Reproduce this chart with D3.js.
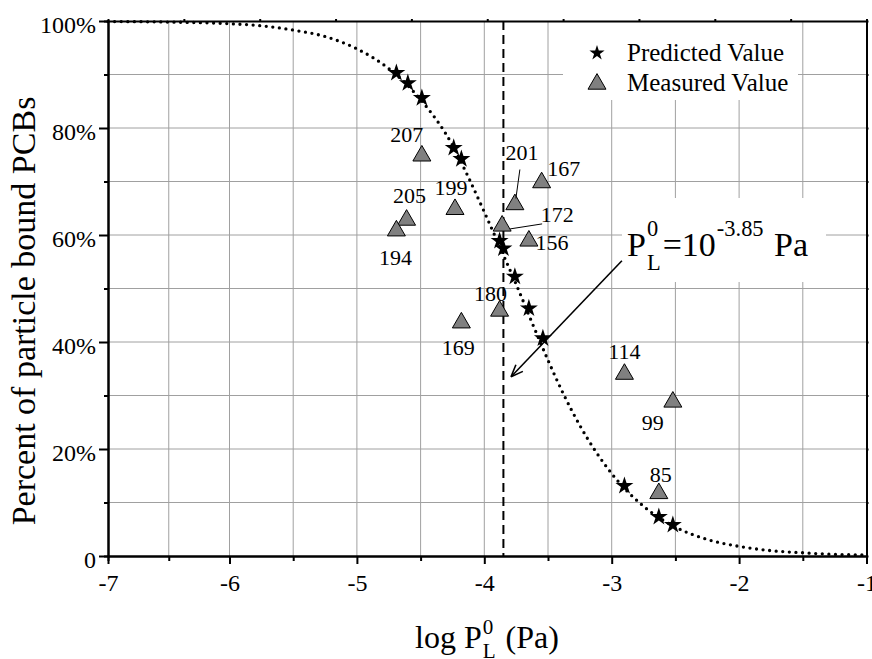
<!DOCTYPE html>
<html lang="en">
<head>
<meta charset="UTF-8">
<title>Particle bound PCBs</title>
<script src="https://cdn.jsdelivr.net/npm/d3@7"></script>
<style>
  body { margin: 0; background: #fff; }
  svg { display: block; }
  svg text { font-family: "Liberation Serif", "Times New Roman", serif; fill: #000; }
  .grid line { stroke: #a0a0a0; stroke-width: 1; }
  .axis path, .axis line { stroke: #000; stroke-width: 2; }
  .axis text { font-size: 24px; }
  .lbl { font-size: 22px; }
</style>
</head>
<body>
<svg id="chart" width="872" height="659"></svg>
<script>
// model curve
const curveLogP = [-7, -6.5, -6, -5.75, -5.5, -5.25, -5, -4.75, -4.5, -4.25, -4.125, -4, -3.875, -3.75, -3.625, -3.5, -3.375, -3.25, -3, -2.75, -2.5, -2.25, -2, -1.75, -1.5, -1.25, -1];
const curvePct  = [99.9, 99.8, 99.5, 99.1, 98.3, 97.1, 94.8, 91.1, 85.3, 76.8, 70.8, 64.3, 57.6, 50.8, 43.6, 36.6, 30.1, 24.4, 15.4, 9.3, 5.4, 3.1, 1.8, 1.0, 0.6, 0.3, 0.2];

// predicted values (stars)
const predLogP = [-4.69, -4.60, -4.49, -4.24, -4.18, -3.88, -3.85, -3.76, -3.65, -3.54, -2.90, -2.63, -2.52];
const predPct  = [90.3, 88.4, 85.6, 76.3, 74.2, 58.9, 57.5, 52.2, 46.3, 40.7, 13.1, 7.3, 5.8];

// measured values (triangles) and congener numbers
const measLabel = ["207", "199", "205", "194", "201", "167", "172", "156", "180", "169", "114", "99", "85"];
const measLogP  = [-4.49, -4.23, -4.61, -4.69, -3.76, -3.55, -3.86, -3.65, -3.88, -4.18, -2.90, -2.52, -2.63];
const measPct   = [74.8, 64.8, 62.8, 60.8, 65.7, 69.8, 61.7, 58.9, 45.8, 43.6, 34.0, 28.8, 11.7];

const xTicks = [-7, -6, -5, -4, -3, -2, -1];
const yTicks = [0, 20, 40, 60, 80, 100];
const logPL = -3.85;

// label placement (pixels from marker), leader lines for crowded ones
const labelOffset = [[-15, -14], [-4, -14], [3, -17], [-1, 34], [7, -45], [22, -7], [55, -4], [23, 9], [-9, -10], [-3, 32], [0, -15], [-20, 28], [2, -11]];
const leaders = { "201": [[5, -35], [1, -6]], "172": [[40, -2], [8, 3]] };

const svg = d3.select("#chart");
const L = 108, R = 866.5, T = 21, B = 556;

// the printed axis squeezes the first decade slightly
const x = d3.scaleLinear().domain([-7, -6, -1]).range([L, 229.5, R]);
const y = d3.scaleLinear().domain([0, 100]).range([B, T]);

// grid
const grid = svg.append("g").attr("class", "grid");
grid.selectAll(".gx").data(d3.range(-6.5, -1.4, 0.5)).join("line")
  .attr("x1", d => x(d)).attr("x2", d => x(d)).attr("y1", T).attr("y2", B);
grid.selectAll(".gy").data(d3.range(10, 91, 10)).join("line")
  .attr("x1", L).attr("x2", R).attr("y1", d => y(d)).attr("y2", d => y(d));

// legend box and annotation box hide the grid
svg.append("rect").attr("x", 563).attr("y", T + 1).attr("width", 235).attr("height", 78).attr("fill", "#fff");
svg.append("rect").attr("x", 622).attr("y", 198).attr("width", 204).attr("height", 84).attr("fill", "#fff");

// axes
const serif = '"Liberation Serif", serif';
svg.append("g").attr("class", "axis")
  .attr("transform", `translate(${L},0)`)
  .call(d3.axisLeft(y).tickValues(d3.range(10, 100, 20)).tickSize(4).tickFormat(""));
const yAx = svg.append("g").attr("class", "axis")
  .attr("transform", `translate(${L},0)`)
  .call(d3.axisLeft(y).tickValues(yTicks).tickSize(9).tickSizeOuter(0).tickPadding(3)
    .tickFormat(d => d === 0 ? "0" : d + "%"))
  .attr("font-family", serif).attr("font-size", 24);
yAx.selectAll("text").attr("dy", "0.47em");

svg.append("g").attr("class", "axis")
  .attr("transform", `translate(0,${B})`)
  .call(d3.axisBottom(x).tickValues(d3.range(-6.5, -1, 1)).tickSize(5).tickFormat(""));
svg.append("g").attr("class", "axis")
  .attr("transform", `translate(0,${B})`)
  .call(d3.axisBottom(x).tickValues(xTicks).tickSize(8).tickSizeOuter(0).tickPadding(10)
    .tickFormat(d => String(d)))
  .attr("font-family", serif).attr("font-size", 24);

// top and right frame
const topScale = d3.scaleLinear().domain([0, 10]).range([L, R]);
svg.append("g").attr("class", "axis")
  .attr("transform", `translate(0,${T})`)
  .call(d3.axisTop(topScale).ticks(10).tickSize(2).tickSizeOuter(0).tickFormat(""));
svg.append("g").attr("class", "axis")
  .attr("transform", `translate(${R},0)`)
  .call(d3.axisRight(y).tickValues(d3.range(0, 101, 10)).tickSize(2).tickSizeOuter(0).tickFormat(""));

// dashed line at log PL = -3.85
svg.append("line")
  .attr("x1", x(logPL)).attr("x2", x(logPL)).attr("y1", T).attr("y2", B)
  .attr("stroke", "#000").attr("stroke-width", 2).attr("stroke-dasharray", "9,5");

// dotted model curve
const curvePts = curveLogP.map((d, i) => [d, curvePct[i]]);
svg.append("path")
  .datum(curvePts)
  .attr("d", d3.line().x(d => x(d[0])).y(d => y(d[1])).curve(d3.curveMonotoneX))
  .attr("fill", "none").attr("stroke", "#000").attr("stroke-width", 3.3)
  .attr("stroke-linecap", "round").attr("stroke-dasharray", "0,6.6");

// measured triangles
const tri = d3.symbol(d3.symbolTriangle, 140);
measLogP.forEach((d, i) => {
  const px = x(d), py = y(measPct[i]);
  svg.append("path").attr("d", tri())
    .attr("transform", `translate(${px},${py})`)
    .attr("fill", "#808080").attr("stroke", "#000").attr("stroke-width", 1);
  const off = labelOffset[i];
  svg.append("text").attr("class", "lbl")
    .attr("x", px + off[0]).attr("y", py + off[1])
    .attr("text-anchor", "middle").text(measLabel[i]);
  const ld = leaders[measLabel[i]];
  if (ld) {
    svg.append("line")
      .attr("x1", px + ld[0][0]).attr("y1", py + ld[0][1])
      .attr("x2", px + ld[1][0]).attr("y2", py + ld[1][1])
      .attr("stroke", "#000").attr("stroke-width", 1);
  }
});

// predicted stars
const star = d3.symbol(d3.symbolStar, 100);
svg.selectAll(".star").data(predLogP).join("path")
  .attr("d", star())
  .attr("transform", (d, i) => `translate(${x(d)},${y(predPct[i])})`)
  .attr("fill", "#000");

// legend
svg.append("path").attr("d", d3.symbol(d3.symbolStar, 72)())
  .attr("transform", "translate(597,53)").attr("fill", "#000");
svg.append("text").attr("x", 627).attr("y", 61).attr("font-size", 25).text("Predicted Value");
svg.append("path").attr("d", tri())
  .attr("transform", "translate(597,84)")
  .attr("fill", "#808080").attr("stroke", "#000").attr("stroke-width", 1);
svg.append("text").attr("x", 627).attr("y", 91).attr("font-size", 25).text("Measured Value");

// text with stacked super/subscripts
function rich(x0, y0, size, parts, supUp, subDown) {
  let cx = x0;
  parts.forEach(p => {
    if (typeof p === "string") {
      const t = svg.append("text").attr("x", cx).attr("y", y0).attr("font-size", size)
        .attr("xml:space", "preserve").text(p);
      cx += t.node().getComputedTextLength();
    } else {
      let w = 0;
      const s = size * 0.66;
      if (p.sup) {
        const t = svg.append("text").attr("x", cx + 1).attr("y", y0 - size * supUp).attr("font-size", s).text(p.sup);
        w = Math.max(w, t.node().getComputedTextLength());
      }
      if (p.sub) {
        const t = svg.append("text").attr("x", cx + 1).attr("y", y0 + size * subDown).attr("font-size", s).text(p.sub);
        w = Math.max(w, t.node().getComputedTextLength());
      }
      cx += w + 3;
    }
  });
}

// annotation and arrow
rich(627, 256, 34, ["P", { sup: "0", sub: "L" }, "=10", { sup: "-3.85" }, " Pa"], 0.6, 0.4);
const a0 = [-2.92, 55.2], a1 = [-3.79, 33.5];
const ax0 = x(a0[0]), ay0 = y(a0[1]), ax1 = x(a1[0]), ay1 = y(a1[1]);
svg.append("line").attr("x1", ax0).attr("y1", ay0).attr("x2", ax1).attr("y2", ay1)
  .attr("stroke", "#000").attr("stroke-width", 1.6);
const ang = Math.atan2(ay1 - ay0, ax1 - ax0);
[-0.38, 0.38].forEach(da => {
  svg.append("line").attr("x1", ax1).attr("y1", ay1)
    .attr("x2", ax1 - 13 * Math.cos(ang + da)).attr("y2", ay1 - 13 * Math.sin(ang + da))
    .attr("stroke", "#000").attr("stroke-width", 1.6);
});

// axis titles
svg.append("text")
  .attr("transform", "translate(35,311) rotate(-90)")
  .attr("text-anchor", "middle").attr("font-size", 34)
  .text("Percent of particle bound PCBs");
rich(415, 648, 32, ["log P", { sup: "0", sub: "L" }, " (Pa)"], 0.45, 0.32);
</script>
</body>
</html>
